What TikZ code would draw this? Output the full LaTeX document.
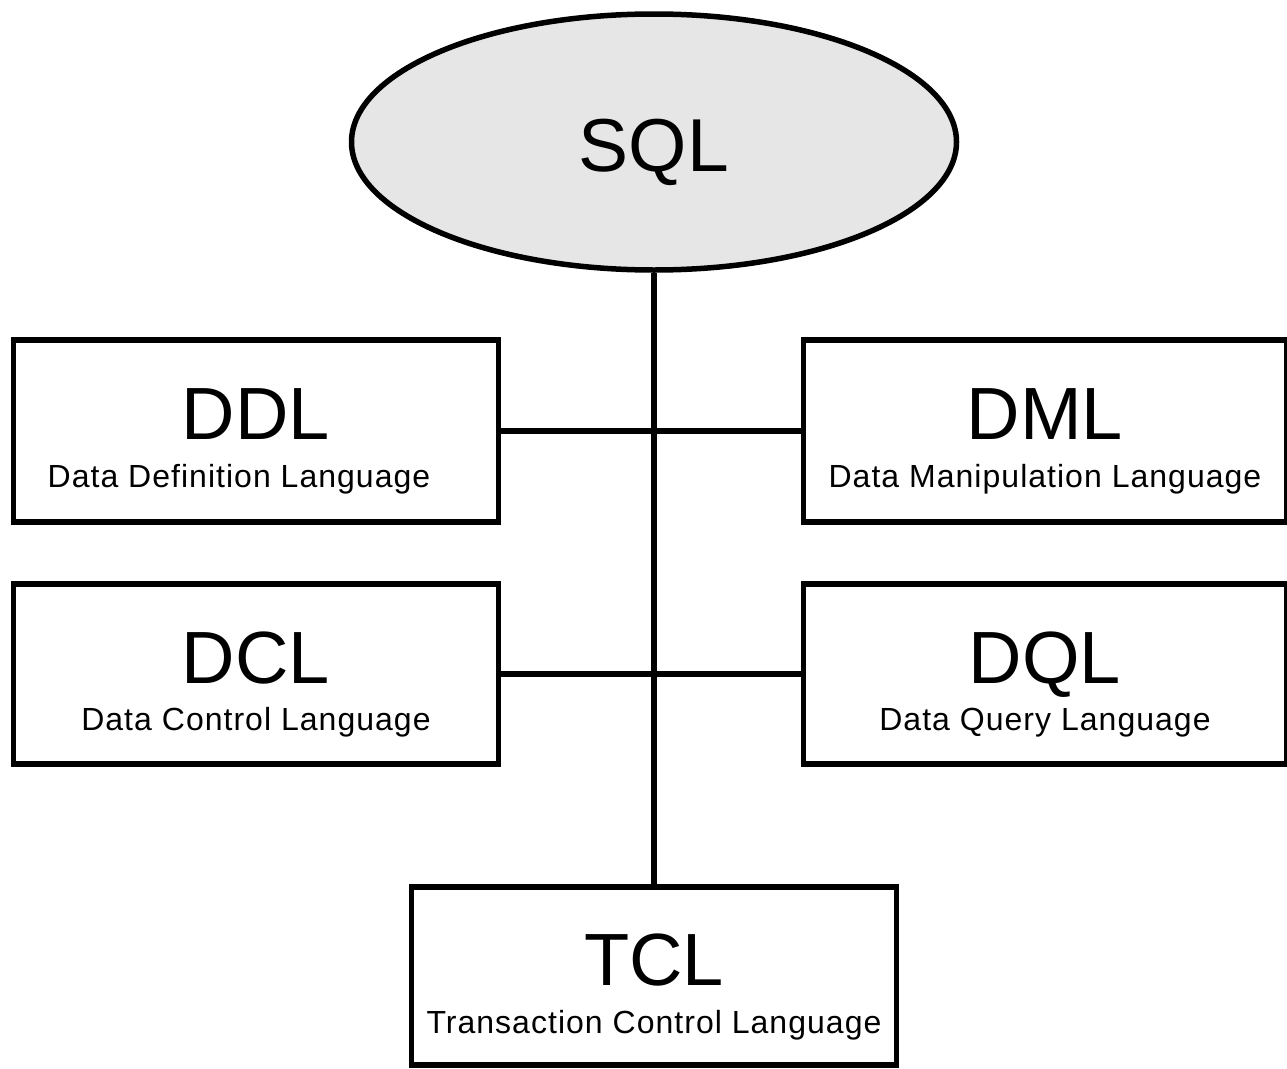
\documentclass[tikz,border=0pt]{standalone}
\usepackage{fontspec}
\setmainfont{Liberation Sans}
\usetikzlibrary{shapes.geometric}
\definecolor{sqlgray}{HTML}{E6E6E6}
\tikzset{
  lang/.style={draw, line width=5.5pt, inner sep=0pt, outer sep=0pt, minimum width=485pt},
  abbr/.style={anchor=base, inner sep=0pt, font=\fontsize{74}{74}\selectfont},
  full/.style={anchor=base, inner sep=0pt, font=\fontsize{32}{32}\selectfont\addfontfeature{LetterSpace=3.2}}
}
\begin{document}
\begin{tikzpicture}[x=1pt,y=-1pt]
 \useasboundingbox (0,0) rectangle (1287,1068);
 % root
 \node[ellipse, draw, line width=5.5pt, fill=sqlgray, minimum width=605pt, minimum height=256pt, inner sep=0pt] (sql) at (654,142) {};
 \node[abbr, font=\fontsize{75}{75}\selectfont] (sql-t) at (654,171) {SQL};
 % language boxes
 \node[lang, minimum height=182pt] (ddl) at (256,431) {};
 \node[lang, minimum height=182pt, minimum width=483pt] (dml) at (1045,431) {};
 \node[lang, minimum height=180pt] (dcl) at (256,674) {};
 \node[lang, minimum height=180pt, minimum width=483pt] (dql) at (1045,674) {};
 \node[lang, minimum height=178pt] (tcl) at (654,976) {};
 % lines
 \draw[line width=5.5pt] (sql.south) -- (tcl.north);
 \draw[line width=5.5pt] (ddl.east) -- (dml.west);
 \draw[line width=5.5pt] (dcl.east) -- (dql.west);
 % texts
 \node[abbr] (ddl-t) at (256,439) {DDL};
 \node[full] (ddl-s) at (239,487) {Data Definition Language};
 \node[abbr] (dml-t) at (1045,439) {DML};
 \node[full] (dml-s) at (1045,487) {Data Manipulation Language};
 \node[abbr] (dcl-t) at (256,683) {DCL};
 \node[full] (dcl-s) at (256,730) {Data Control Language};
 \node[abbr] (dql-t) at (1045,683) {DQL};
 \node[full] (dql-s) at (1045,730) {Data Query Language};
 \node[abbr] (tcl-t) at (654,985) {TCL};
 \node[full] (tcl-s) at (654,1033) {Transaction Control Language};
\end{tikzpicture}
\end{document}
